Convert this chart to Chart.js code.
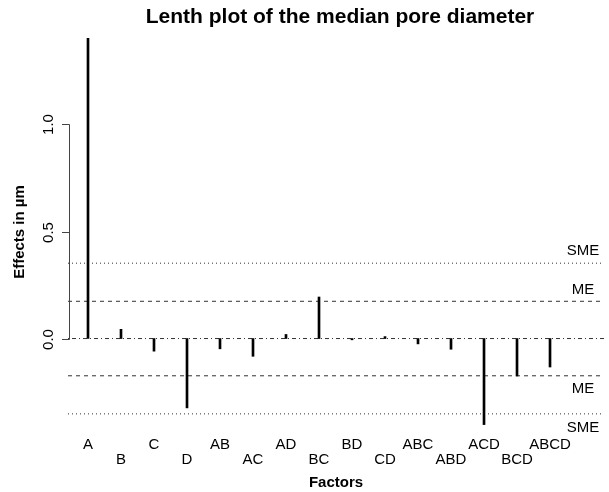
<!DOCTYPE html>
<html>
<head>
<meta charset="utf-8">
<script src="https://cdn.jsdelivr.net/npm/chart.js@4"></script>
<style>
html,body{margin:0;padding:0;background:#fff;}
#wrap{width:609px;height:492px;position:relative;}
</style>
</head>
<body>
<div id="wrap"><canvas id="c" width="609" height="492"></canvas></div>
<script>
const factors = ['A','B','C','D','AB','AC','AD','BC','BD','CD','ABC','ABD','ACD','BCD','ABCD'];
const effects = [1.402, 0.043, -0.059, -0.324, -0.048, -0.083, 0.019, 0.194, -0.006, 0.009, -0.025, -0.050, -0.402, -0.175, -0.133];
const ME = 0.174;
const SME = 0.352;
const yTicks = [0, 0.5, 1.0];
const yTickLabels = ['0.0', '0.5', '1.0'];
const titleText = 'Lenth plot of the median pore diameter';
const xTitle = 'Factors';
const yTitle = 'Effects in µm';

const X_MIN = 0.394, X_MAX = 16.636;
const Y_MIN = -0.474, Y_MAX = 1.474;

function hline(v, dash, order) {
  return {
    type: 'line',
    data: [{x: X_MIN, y: v}, {x: X_MAX, y: v}],
    borderColor: '#333',
    borderWidth: 1,
    borderDash: dash,
    pointRadius: 0,
    fill: false,
    order: order
  };
}

const FONT = '"Liberation Sans", Arial, Helvetica, sans-serif';

const annot = {
  id: 'annot',
  afterDraw(chart) {
    const ctx = chart.ctx;
    const xs = chart.scales.x, ys = chart.scales.y;
    ctx.save();
    // y axis
    ctx.strokeStyle = '#444';
    ctx.lineWidth = 1;
    const ax = 69.5;
    ctx.beginPath();
    ctx.moveTo(ax, Math.round(ys.getPixelForValue(yTicks[0])) + 0.5);
    ctx.lineTo(ax, Math.round(ys.getPixelForValue(yTicks[yTicks.length - 1])) + 0.5);
    ctx.stroke();
    ctx.fillStyle = '#000';
    ctx.font = '15px ' + FONT;
    ctx.textAlign = 'center';
    ctx.textBaseline = 'middle';
    yTicks.forEach((t, i) => {
      const py = Math.round(ys.getPixelForValue(t)) + 0.5;
      ctx.beginPath();
      ctx.moveTo(62, py);
      ctx.lineTo(ax, py);
      ctx.stroke();
      ctx.save();
      ctx.translate(49, py);
      ctx.rotate(-Math.PI / 2);
      ctx.fillText(yTickLabels[i], 0, 0);
      ctx.restore();
    });
    // factor labels
    factors.forEach((f, i) => {
      const px = xs.getPixelForValue(i + 1);
      const py = (i % 2 === 0) ? 445 : 460;
      ctx.fillText(f, px, py);
    });
    // ME/SME labels
    const lx = 583;
    ctx.fillText('SME', lx, ys.getPixelForValue(SME) - 12);
    ctx.fillText('ME', lx, ys.getPixelForValue(ME) - 11);
    ctx.fillText('ME', lx, ys.getPixelForValue(-ME) + 13);
    ctx.fillText('SME', lx, ys.getPixelForValue(-SME) + 14);
    // titles
    ctx.font = 'bold 21px ' + FONT;
    ctx.fillText(titleText, 340, 17);
    ctx.font = 'bold 15px ' + FONT;
    ctx.fillText(xTitle, 336, 483);
    ctx.save();
    ctx.translate(20, 232);
    ctx.rotate(-Math.PI / 2);
    ctx.fillText(yTitle, 0, 0);
    ctx.restore();
    ctx.restore();
  }
};

new Chart(document.getElementById('c'), {
  type: 'bar',
  data: {
    datasets: [
      {
        type: 'bar',
        data: effects.map((v, i) => ({x: i + 1, y: v})),
        backgroundColor: '#000',
        borderWidth: 0,
        barThickness: 2,
        order: 0
      },
      hline(SME, [1, 3], 1),
      hline(ME, [4, 4], 1),
      hline(0, [1, 3, 4, 3], 1),
      hline(-ME, [4, 4], 1),
      hline(-SME, [1, 3], 1)
    ]
  },
  options: {
    responsive: false,
    animation: false,
    devicePixelRatio: 1,
    layout: {padding: {left: 68, right: 5, top: 23, bottom: 52}},
    plugins: {legend: {display: false}, tooltip: {enabled: false}, title: {display: false}},
    scales: {
      x: {type: 'linear', min: X_MIN, max: X_MAX, display: false, offset: false},
      y: {type: 'linear', min: Y_MIN, max: Y_MAX, display: false}
    }
  },
  plugins: [annot]
});
</script>
</body>
</html>
